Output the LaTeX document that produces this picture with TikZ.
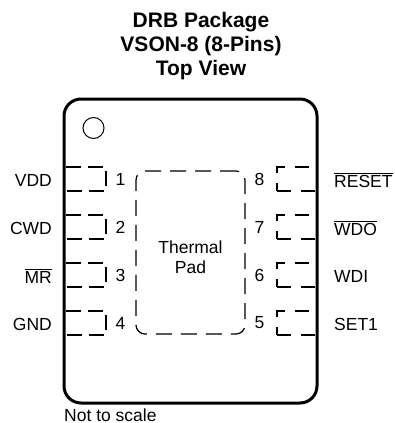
\documentclass[tikz,border=0pt]{standalone}
\usepackage{xcolor}
\usepackage{amsmath}
\usepackage{fontspec}
\setmainfont{Liberation Sans}
\usepackage{tikz}
\usetikzlibrary{positioning}

\begin{document}
\begin{tikzpicture}[
            x=1pt, y=-1pt,
            every node/.style={font=\fontsize{17.5}{20}\selectfont, inner sep=0pt},
            body/.style={draw, line width=3pt, rounded corners=17pt, minimum width=253pt, minimum height=304pt},
            dot/.style={draw, circle, line width=1pt, minimum size=21pt},
            padbox/.style={draw, line width=1.2pt, dash pattern=on 16pt off 9pt, rounded corners=9pt, minimum width=109pt, minimum height=163pt},
            pinleft/.style={draw, line width=1.2pt, dash pattern=on 15pt off 7pt, dash phase=19pt, minimum width=42pt, minimum height=24pt},
            pinright/.style={draw, line width=1.2pt, dash pattern=on 14pt off 10pt, minimum width=40pt, minimum height=24pt},
            invisible/.style={draw=none, fill=none},
        ]
        \useasboundingbox (0,0) rectangle (394,423);

        \node[invisible, align=center, font=\fontsize{21}{24}\selectfont\bfseries] (title) at (201,46) {DRB Package\\VSON-8 (8-Pins)\\Top View};

        \node[pinleft] (p1) at (85,179) {};
        \node[pinleft] (p2) at (85,227) {};
        \node[pinleft] (p3) at (85,275) {};
        \node[pinleft] (p4) at (85,323) {};

        \node[pinright] (p8) at (297,179) {};
        \node[pinright] (p7) at (297,227) {};
        \node[pinright] (p6) at (297,275) {};
        \node[pinright] (p5) at (297,323) {};

        \node[body] (chip) at (190.5,251) {};
        \node[dot] (mark) at (93.5,128) {};
        \node[padbox] (pad) at (190.5,252.5) {};
        \node[invisible, align=center] (padlabel) at (190.5,257) {Thermal\\Pad};

        \node[right=14pt of p1.east, anchor=center] (n1) {1};
        \node[right=14pt of p2.east, anchor=center] (n2) {2};
        \node[right=14pt of p3.east, anchor=center] (n3) {3};
        \node[right=14pt of p4.east, anchor=center] (n4) {4};

        \node[left=17pt of p8.west, anchor=center] (n8) {8};
        \node[left=17pt of p7.west, anchor=center] (n7) {7};
        \node[left=17pt of p6.west, anchor=center] (n6) {6};
        \node[left=17pt of p5.west, anchor=center] (n5) {5};

        \node[anchor=east] (vdd) at (52,180) {VDD};
        \node[anchor=east] (cwd) at (52,228) {CWD};
        \node[anchor=east] (mr) at (52,276) {$\overline{\mbox{MR}}$};
        \node[anchor=east] (gnd) at (52,324) {GND};

        \node[anchor=west] (reset) at (334,180) {$\overline{\mbox{RESET}}$};
        \node[anchor=west] (wdo) at (334,228) {$\overline{\mbox{WDO}}$};
        \node[anchor=west] (wdi) at (334,276) {WDI};
        \node[anchor=west] (set) at (334,324) {SET1};

        \node[anchor=west] (scale) at (64,415) {Not to scale};
\end{tikzpicture}
\end{document}
